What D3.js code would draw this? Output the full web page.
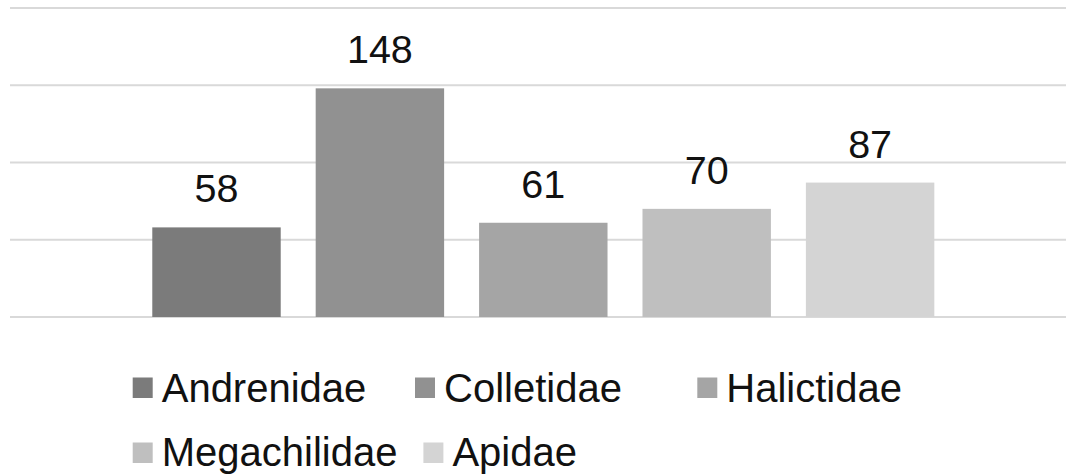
<!DOCTYPE html>
<html>
<head>
<meta charset="utf-8">
<script src="https://cdn.jsdelivr.net/npm/d3@7"></script>
<style>
  html, body { margin: 0; padding: 0; background: #fff; }
  svg { display: block; font-family: "Liberation Sans", Arial, sans-serif; }
</style>
</head>
<body>
<div id="chart"></div>
<script>
// Bee families and specimen counts
const families = ["Andrenidae", "Colletidae", "Halictidae", "Megachilidae", "Apidae"];
const counts = [58, 148, 61, 70, 87];
const yTicks = [0, 50, 100, 150, 200];

const width = 1066;
const height = 474;

// Define colors
const color = d3.scaleOrdinal()
    .domain(families)
    .range(["#7b7b7b", "#919191", "#a5a5a5", "#bfbfbf", "#d4d4d4"]);

const svg = d3.select("#chart")
    .append("svg")
    .attr("width", width)
    .attr("height", height);

// Scales
const xScale = d3.scaleBand()
    .domain(families)
    .range([134.8, 951.8])
    .paddingInner(0.214)
    .paddingOuter(0.107);

const yScale = d3.scaleLinear()
    .domain([0, 200])
    .range([317, 8]);

// Gridlines (baseline included)
svg.append("g")
    .selectAll("line")
    .data(yTicks)
    .enter().append("line")
    .attr("x1", 10)
    .attr("x2", width)
    .attr("y1", d => yScale(d))
    .attr("y2", d => yScale(d))
    .attr("stroke", "#d9d9d9")
    .attr("stroke-width", 1.8);

// Bars
svg.append("g")
    .selectAll("rect")
    .data(families)
    .enter().append("rect")
    .attr("x", d => xScale(d))
    .attr("y", (d, i) => yScale(counts[i]))
    .attr("width", xScale.bandwidth())
    .attr("height", (d, i) => yScale(0) - yScale(counts[i]))
    .attr("fill", d => color(d));

// Data labels
svg.append("g")
    .selectAll("text")
    .data(families)
    .enter().append("text")
    .attr("x", d => xScale(d) + xScale.bandwidth() / 2)
    .attr("y", (d, i) => yScale(counts[i]) - 25)
    .attr("text-anchor", "middle")
    .attr("font-size", 39.5)
    .attr("fill", "#111")
    .text((d, i) => counts[i]);

// Legend: first row on fixed columns, second row flows
const legend = svg.append("g");
const rows = [families.slice(0, 3), families.slice(3)];
const rowY = [377.5, 442.5];
rows.forEach((row, r) => {
    let x = 132.7;
    row.forEach(name => {
        const item = legend.append("g").attr("transform", "translate(" + x + "," + rowY[r] + ")");
        item.append("rect")
            .attr("width", 20)
            .attr("height", 20.5)
            .attr("fill", color(name));
        const label = item.append("text")
            .attr("x", 29)
            .attr("y", r === 0 ? 24.5 : 23)
            .attr("font-size", 40)
            .attr("fill", "#111")
            .text(name);
        if (r === 0) {
            x += 282.3;
        } else {
            x += 29 + label.node().getComputedTextLength() + 26;
        }
    });
});
</script>
</body>
</html>
